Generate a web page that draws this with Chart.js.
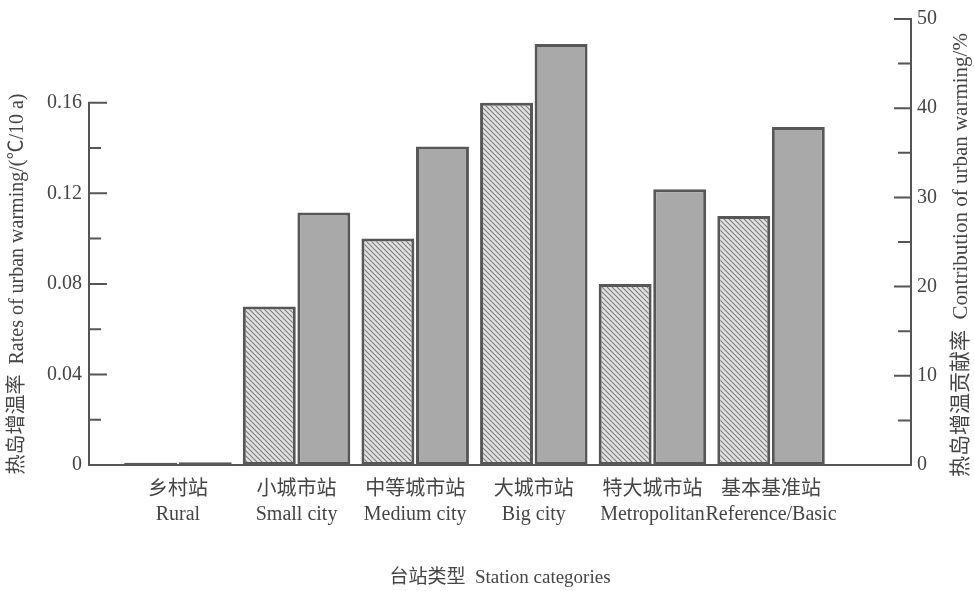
<!DOCTYPE html>
<html>
<head>
<meta charset="utf-8">
<script src="https://cdn.jsdelivr.net/npm/chart.js@4.4.1/dist/chart.umd.min.js"></script>
<style>
html,body{margin:0;padding:0;background:#ffffff;}
#wrap{width:974px;height:591px;}
</style>
</head>
<body>
<div id="wrap"><canvas id="c" width="974" height="591"></canvas></div>
<script>
// ---- data ----
const categoriesCN = ['乡村站', '小城市站', '中等城市站', '大城市站', '特大城市站', '基本基准站'];
const categoriesEN = ['Rural', 'Small city', 'Medium city', 'Big city', 'Metropolitan', 'Reference/Basic'];
const warmingRate = [0.001, 0.07, 0.10, 0.16, 0.08, 0.11];      // ℃/10a (left axis)
const contribution = [0.3, 28.3, 35.7, 47.2, 30.9, 37.9];       // % (right axis)
const leftTicks = [0, 0.02, 0.04, 0.06, 0.08, 0.10, 0.12, 0.14, 0.16];
const rightTicks = [0, 5, 10, 15, 20, 25, 30, 35, 40, 45, 50];
const leftTitle = '热岛增温率  Rates of urban warming/(℃/10 a)';
const rightTitle = '热岛增温贡献率  Contribution of urban warming/%';
const xTitle = '台站类型  Station categories';

// ---- styles ----
const SERIF = "'Liberation Serif','Times New Roman','Noto Sans CJK SC',serif";
const INK = '#454545';
const AXIS = '#555555';

const canvas = document.getElementById('c');
const ctx0 = canvas.getContext('2d');
function hatchPattern() {
  const c = document.createElement('canvas');
  c.width = 5; c.height = 5;
  const g = c.getContext('2d');
  g.fillStyle = '#e2e2e2';
  g.fillRect(0, 0, 5, 5);
  g.strokeStyle = '#7c7c7c';
  g.lineWidth = 1.1;
  g.beginPath();
  g.moveTo(-1, -1); g.lineTo(6, 6);
  g.moveTo(-6, -1); g.lineTo(1, 6);
  g.moveTo(4, -1); g.lineTo(11, 6);
  g.stroke();
  return ctx0.createPattern(c, 'repeat');
}

const axisMarks = {
  id: 'axisMarks',
  afterDraw(chart) {
    const {ctx, chartArea: a, scales: {yL, yR}} = chart;
    ctx.save();
    ctx.strokeStyle = AXIS;
    ctx.lineWidth = 2;
    ctx.beginPath();
    ctx.moveTo(a.left, yL.getPixelForValue(0) + 1);
    ctx.lineTo(a.left, yL.getPixelForValue(leftTicks[leftTicks.length - 1]) - 1);
    yL.ticks.forEach((t, i) => {
      if (t.value === 0) return;
      const y = yL.getPixelForValue(t.value);
      const len = i % 2 === 0 ? 18 : 12;
      ctx.moveTo(a.left, y); ctx.lineTo(a.left + len, y);
    });
    yR.ticks.forEach((t, i) => {
      if (t.value === 0) return;
      const y = yR.getPixelForValue(t.value);
      const len = i % 2 === 0 ? 17 : 13;
      ctx.moveTo(a.right, y); ctx.lineTo(a.right - len, y);
    });
    ctx.stroke();
    // vertical axis titles
    ctx.fillStyle = INK;
    ctx.textAlign = 'center';
    ctx.textBaseline = 'middle';
    ctx.save();
    ctx.font = '20px ' + SERIF;
    ctx.translate(18, 284);
    ctx.rotate(-Math.PI / 2);
    ctx.fillText(leftTitle, 0, 0);
    ctx.restore();
    ctx.save();
    ctx.font = '21px ' + SERIF;
    ctx.translate(961, 255);
    ctx.rotate(-Math.PI / 2);
    ctx.fillText(rightTitle, 0, 0);
    ctx.restore();
    ctx.restore();
  }
};

new Chart(canvas, {
  type: 'bar',
  data: {
    datasets: [
      {
        label: 'Rates of urban warming',
        data: categoriesCN.map((_, i) => ({x: i, y: warmingRate[i]})),
        yAxisID: 'yL',
        backgroundColor: hatchPattern(),
        borderColor: '#575757',
        borderWidth: 3,
        borderSkipped: false
      },
      {
        label: 'Contribution of urban warming',
        data: categoriesCN.map((_, i) => ({x: i, y: contribution[i]})),
        yAxisID: 'yR',
        backgroundColor: '#a9a9a9',
        borderColor: '#575757',
        borderWidth: 3,
        borderSkipped: false
      }
    ]
  },
  options: {
    responsive: false,
    animation: false,
    devicePixelRatio: 1,
    layout: {padding: {top: 16, left: 0, right: 0, bottom: 0}},
    categoryPercentage: 0.92,
    barPercentage: 0.97,
    plugins: {legend: {display: false}, tooltip: {enabled: false}},
    scales: {
      x: {
        type: 'linear',
        offset: false,
        min: -0.75,
        max: 6.18,
        afterBuildTicks: s => { s.ticks = categoriesCN.map((_, i) => ({value: i})); },
        afterFit: s => { s.height = 126; },
        grid: {display: false, drawTicks: false, offset: false},
        border: {display: true, color: AXIS, width: 2},
        ticks: {
          autoSkip: false, maxRotation: 0, padding: 12, color: INK,
          font: {family: SERIF, size: 20, lineHeight: 1.25},
          callback: v => [categoriesCN[v], categoriesEN[v]]
        },
        title: {
          display: true, text: xTitle, color: INK,
          font: {family: SERIF, size: 19},
          padding: {top: 0, bottom: 2}
        }
      },
      yL: {
        type: 'linear',
        position: 'left',
        min: 0,
        max: 0.197,
        afterBuildTicks: s => { s.ticks = leftTicks.map(v => ({value: v})); },
        afterFit: s => { s.width = 89; },
        grid: {display: false, drawTicks: false},
        border: {display: false},
        ticks: {
          autoSkip: false, padding: 7, color: INK,
          font: {family: SERIF, size: 20},
          callback: (v, i) => i % 2 === 0 ? (v === 0 ? '0' : v.toFixed(2)) : ''
        }
      },
      yR: {
        type: 'linear',
        position: 'right',
        min: 0,
        max: 50,
        afterBuildTicks: s => { s.ticks = rightTicks.map(v => ({value: v})); },
        afterFit: s => { s.width = 63; },
        grid: {display: false, drawTicks: false},
        border: {display: true, color: AXIS, width: 2},
        ticks: {
          autoSkip: false, padding: 6, color: INK,
          font: {family: SERIF, size: 20},
          callback: (v, i) => i % 2 === 0 ? String(v) : ''
        }
      }
    }
  },
  plugins: [axisMarks]
});
</script>
</body>
</html>
